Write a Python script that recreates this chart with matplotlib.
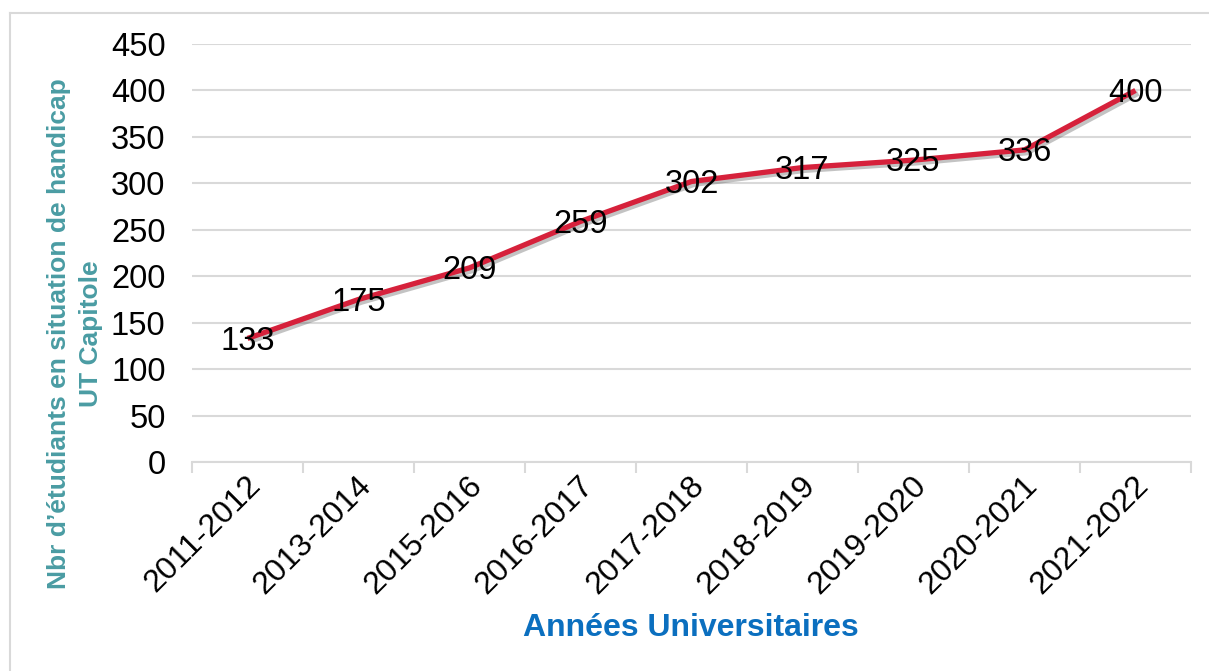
import matplotlib.pyplot as plt
import matplotlib.patheffects as pe
import matplotlib.transforms as mtransforms
from matplotlib.lines import Line2D
import numpy as np

plt.rcParams['font.family'] = ['Liberation Sans', 'DejaVu Sans']

# data
annees = ['2011-2012', '2013-2014', '2015-2016', '2016-2017', '2017-2018',
          '2018-2019', '2019-2020', '2020-2021', '2021-2022']
etudiants = [133, 175, 209, 259, 302, 317, 325, 336, 400]

fig = plt.figure(figsize=(12.09, 6.71), dpi=100)
ax = fig.add_axes([192/1209, 1 - 462/671, (1191 - 192)/1209, (462 - 44)/671])

x = np.arange(len(annees))
ax.plot(x, etudiants, color='#D6213B', linewidth=3.8, solid_capstyle='butt',
        path_effects=[pe.SimpleLineShadow(offset=(2, -2), shadow_color='#555555', alpha=0.35),
                      pe.Normal()], zorder=3)

for xi, v in zip(x, etudiants):
    ax.annotate(str(v), (xi, v), xytext=(0, -2), textcoords='offset points',
                ha='center', va='center', fontsize=23.5, color='black', zorder=4)

ax.set_xlim(-0.5, len(annees) - 0.5)
ax.set_ylim(0, 450)
ax.set_yticks(range(0, 451, 50))
ax.tick_params(axis='y', length=0, labelsize=23.5, pad=19)
ax.grid(axis='y', color='#D9D9D9', linewidth=1.5)
ax.set_axisbelow(True)

ax.set_xticks(x)
ax.set_xticklabels(annees, rotation=45, ha='right', rotation_mode='anchor', fontsize=23)
ax.tick_params(axis='x', which='major', length=0, pad=6)
shift = mtransforms.ScaledTranslation(-2/100, 0, fig.dpi_scale_trans)
for lab in ax.get_xticklabels():
    lab.set_transform(lab.get_transform() + shift)
ax.set_xticks(np.arange(-0.5, len(annees), 1), minor=True)
ax.tick_params(axis='x', which='minor', length=8, width=1.5, color='#D9D9D9')

for s in ['top', 'right', 'left']:
    ax.spines[s].set_visible(False)
ax.spines['bottom'].set_color('#D9D9D9')
ax.spines['bottom'].set_linewidth(1.5)

fig.text(691/1209, 1 - 628/671, 'Années Universitaires', ha='center', va='center',
         fontsize=23, fontweight='bold', color='#0B6FBF')
fig.text(75/1209, 1 - 334/671, "Nbr d’étudiants en situation de handicap\nUT Capitole",
         ha='center', va='center', rotation=90, fontsize=19, fontweight='bold',
         color='#4A9CA3', linespacing=1.4)

# outer frame (left and top only visible)
fig.add_artist(Line2D([10/1209, 10/1209], [0, 1 - 13/671], color='#D9D9D9', linewidth=1.5,
                      transform=fig.transFigure))
fig.add_artist(Line2D([10/1209, 1], [1 - 13/671, 1 - 13/671], color='#D9D9D9', linewidth=1.5,
                      transform=fig.transFigure))

fig.savefig('out.png', dpi=100)
